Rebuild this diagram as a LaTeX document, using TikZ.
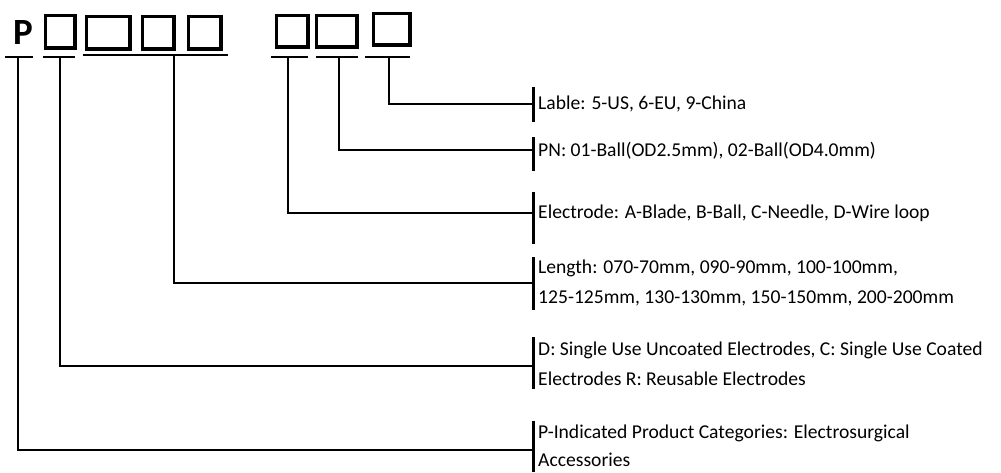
\documentclass[tikz,border=0pt]{standalone}
\usepackage{fontspec}
\setmainfont{Carlito}
\begin{document}
\begin{tikzpicture}[x=1pt,y=-1pt,line cap=butt,
  box/.style={draw,line width=3.2pt,inner sep=0pt,anchor=north west},
  uline/.style={line width=2.8pt},
  thinline/.style={line width=2pt},
  conn/.style={line width=2.6pt},
  bar/.style={line width=3pt},
  lbl/.style={anchor=west,inner sep=0pt,align=left,font=\fontsize{19.6}{29.5}\selectfont}]
\useasboundingbox (0,0) rectangle (1001,472);
% code letters and boxes
\node[anchor=base,inner sep=0pt,font=\fontsize{37}{37}\selectfont\bfseries] (p) at (23,44) {P};
\node[box,minimum width=29.8pt,minimum height=32.8pt] (b1) at (43.6,13.6) {};
\node[box,minimum width=43.8pt,minimum height=32.8pt] (b2) at (84.6,14.6) {};
\node[box,minimum width=31.8pt,minimum height=32.8pt] (b3) at (140.6,14.6) {};
\node[box,minimum width=32.8pt,minimum height=32.8pt] (b4) at (186.6,14.6) {};
\node[box,minimum width=31.8pt,minimum height=31.8pt] (b5) at (274.6,13.6) {};
\node[box,minimum width=40.8pt,minimum height=31.8pt] (b6) at (314.6,13.6) {};
\node[box,minimum width=36.8pt,minimum height=31.8pt] (b7) at (371.6,11.6) {};
% underlines
\draw[uline] (5,57) -- (33,57);
\draw[thinline] (43,57) -- (75,57);
\draw[thinline] (83,55) -- (228,55);
\draw[uline] (271,57) -- (308,57);
\draw[uline] (316,57) -- (358,57);
\draw[uline] (365,57) -- (410,57);
% bars at the labels
\draw[bar] (533,87) -- (533,122);
\draw[bar] (533,137) -- (533,171);
\draw[bar] (533,192) -- (533,244);
\draw[bar] (533,257) -- (533,310);
\draw[bar] (533,337) -- (533,389);
\draw[bar] (533,421) -- (533,472);
% connector points
\coordinate (u0) at (18,57);   \coordinate (e0) at (533,450);
\coordinate (u1) at (60,57);   \coordinate (e1) at (533,366);
\coordinate (u2) at (174,55);  \coordinate (e2) at (533,283);
\coordinate (u5) at (288,57);  \coordinate (e5) at (533,213);
\coordinate (u6) at (339,57);  \coordinate (e6) at (533,150);
\coordinate (u7) at (389,57);  \coordinate (e7) at (533,104);
\draw[conn] (u0) |- (e0);
\draw[conn] (u1) |- (e1);
\draw[conn] (u2) |- (e2);
\draw[conn] (u5) |- (e5);
\draw[conn] (u6) |- (e6);
\draw[conn] (u7) |- (e7);
% labels
\node[lbl] (t7) at (538,104) {Lable: 5-US, 6-EU, 9-China};
\node[lbl] (t6) at (538,151) {PN: 01-Ball(OD2.5mm), 02-Ball(OD4.0mm)};
\node[lbl] (t5) at (538,213) {Electrode: A-Blade, B-Ball, C-Needle, D-Wire loop};
\node[lbl] (t2) at (538,283) {Length: 070-70mm, 090-90mm, 100-100mm,\\125-125mm, 130-130mm, 150-150mm, 200-200mm};
\node[lbl] (t1) at (538,364) {D: Single Use Uncoated Electrodes, C: Single Use Coated\\Electrodes R: Reusable Electrodes};
\node[lbl,font=\fontsize{19.6}{28}\selectfont] (t0) at (538,446) {P-Indicated Product Categories: Electrosurgical\\Accessories};
\end{tikzpicture}
\end{document}
